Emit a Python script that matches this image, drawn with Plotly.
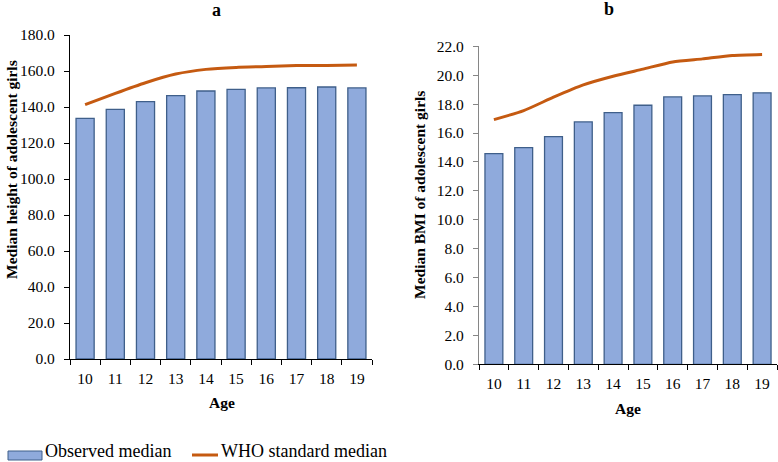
import plotly.graph_objects as go

ages = ["10", "11", "12", "13", "14", "15", "16", "17", "18", "19"]
height_observed = [133.7, 138.7, 143.0, 146.3, 148.9, 149.8, 150.6, 150.7, 151.1, 150.6]
height_who = [141.3, 147.6, 153.5, 158.3, 160.9, 162.0, 162.5, 163.0, 163.1, 163.3]
bmi_observed = [14.57, 14.99, 15.75, 16.77, 17.41, 17.92, 18.50, 18.57, 18.66, 18.78]
bmi_who = [16.93, 17.55, 18.48, 19.33, 19.93, 20.42, 20.92, 21.13, 21.36, 21.43]

BAR_FILL = "#8FAADC"
BAR_EDGE = "#3F5F8A"
LINE_COL = "#C55A11"
FONT = "Liberation Serif, Times New Roman, serif"
W, H = 778, 462

fig = go.Figure()
fig.add_trace(go.Bar(x=ages, y=height_observed, xaxis="x", yaxis="y",
                     marker=dict(color=BAR_FILL, line=dict(color=BAR_EDGE, width=1.3)),
                     name="Observed median", showlegend=False))
fig.add_trace(go.Scatter(x=ages, y=height_who, xaxis="x", yaxis="y", mode="lines",
                         line=dict(color=LINE_COL, width=3, shape="spline", smoothing=0.6),
                         name="WHO standard median", showlegend=False))
fig.add_trace(go.Bar(x=ages, y=bmi_observed, xaxis="x2", yaxis="y2",
                     marker=dict(color=BAR_FILL, line=dict(color=BAR_EDGE, width=1.3)),
                     name="Observed median", showlegend=False))
fig.add_trace(go.Scatter(x=ages, y=bmi_who, xaxis="x2", yaxis="y2", mode="lines",
                         line=dict(color=LINE_COL, width=3, shape="spline", smoothing=0.6),
                         name="WHO standard median", showlegend=False))

def px(x):
    return x / W

def py(y):
    return 1 - y / H

tickfont = dict(family=FONT, size=15.5, color="black")
xcommon = dict(type="category", showline=True, linecolor="black", linewidth=1.2,
               ticks="outside", tickson="boundaries", ticklen=5, tickcolor="black",
               tickfont=tickfont, showgrid=False, zeroline=False, fixedrange=True,
               automargin=False, ticklabelstandoff=5)

fig.update_layout(
    template="none",
    width=W, height=H,
    margin=dict(l=0, r=0, t=0, b=0, pad=0, autoexpand=False),
    paper_bgcolor="white", plot_bgcolor="white",
    showlegend=False,
    bargap=0.4,
    xaxis=dict(domain=[px(70), px(372)], anchor="y", **xcommon),
    yaxis=dict(domain=[py(359), py(35)], anchor="x", range=[0, 180], dtick=20,
               tickformat=".1f", showline=True, linecolor="black", linewidth=1.2,
               ticks="outside", ticklen=5, tickcolor="black", tickfont=tickfont,
               showgrid=False, zeroline=False, fixedrange=True, automargin=False,
               ticklabelstandoff=6),
    xaxis2=dict(domain=[px(479), px(777)], anchor="y2", **xcommon),
    yaxis2=dict(domain=[py(364.3), py(46.3)], anchor="x2", range=[0, 22], dtick=2,
                tickformat=".1f", showline=True, linecolor="#868686", linewidth=1.2,
                ticks="outside", ticklen=5, tickcolor="#868686", tickfont=tickfont,
                showgrid=False, zeroline=False, fixedrange=True, automargin=False,
                ticklabelstandoff=6),
)

def ann(text, x, y, size, bold=True, angle=0, xanchor="center", yanchor="middle"):
    fig.add_annotation(text=f"<b>{text}</b>" if bold else text,
                       x=px(x), y=py(y), xref="paper", yref="paper",
                       xanchor=xanchor, yanchor=yanchor, showarrow=False, borderpad=0,
                       textangle=angle, font=dict(family=FONT, size=size, color="black"))

ann("a", 216, 10, 18)
ann("b", 609, 9, 18)
ann("Median height of adolescent girls", 11, 170, 15.5, angle=-90)
ann("Median BMI of adolescent girls", 419, 195, 15.5, angle=-90)
ann("Age", 222, 402, 15.5)
ann("Age", 628, 408, 15.5)

# legend
fig.add_shape(type="rect", xref="paper", yref="paper",
              x0=px(8), x1=px(42), y0=py(460), y1=py(451),
              fillcolor=BAR_FILL, line=dict(color=BAR_EDGE, width=1))
fig.add_shape(type="line", xref="paper", yref="paper",
              x0=px(192), x1=px(218), y0=py(455), y1=py(455),
              line=dict(color=LINE_COL, width=3))
ann("Observed median", 44, 461.5, 18, bold=False, xanchor="left", yanchor="bottom")
ann("WHO standard median", 220, 461.5, 18, bold=False, xanchor="left", yanchor="bottom")

fig.write_html("out.html", config={"displayModeBar": False},
               post_script="document.body.style.margin='0';document.documentElement.style.overflow='hidden';")
